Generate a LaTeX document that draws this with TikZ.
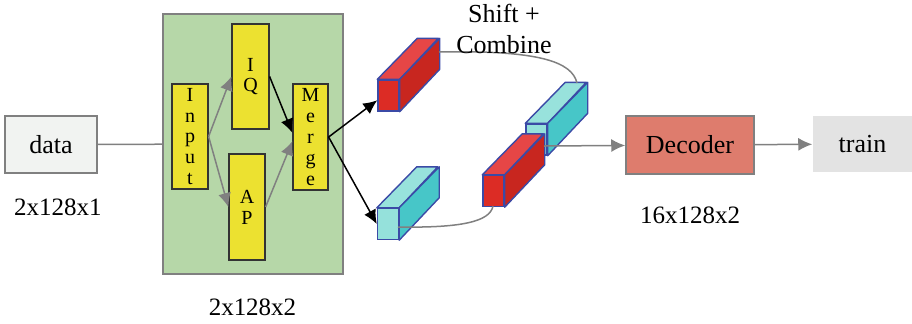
\documentclass[tikz,border=0pt]{standalone}
\usepackage{fontspec}
\setmainfont{Liberation Serif}
\usetikzlibrary{arrows.meta}

\definecolor{boxgray}{HTML}{808080}
\definecolor{datafill}{HTML}{F1F3F1}
\definecolor{grn}{HTML}{B6D7A8}
\definecolor{ylw}{HTML}{ECE130}
\definecolor{dec}{HTML}{DE7C6D}
\definecolor{trn}{HTML}{E3E3E3}
\definecolor{slabedge}{HTML}{3B4AA6}
\definecolor{redfront}{HTML}{DC2C25}
\definecolor{redtop}{HTML}{E64646}
\definecolor{redside}{HTML}{C8261F}
\definecolor{cyfront}{HTML}{95E1DB}
\definecolor{cytop}{HTML}{98E2DC}
\definecolor{cyside}{HTML}{47C6C8}

% name, position, front, top, side
\newcommand{\slab}[5]{
  \node[slab,fill=#3] (#1) at (#2) {};
  \filldraw[slabline,fill=#4] (#1.north west) -- ++(40,-41) -- ++(21,0) -- (#1.north east) -- cycle;
  \filldraw[slabline,fill=#5] (#1.north east) -- ++(40,-41) -- ++(0,31) -- (#1.south east) -- cycle;
}

\begin{document}
\begin{tikzpicture}[x=0.5pt,y=-0.5pt,
    blk/.style={draw=boxgray,line width=0.75pt,inner sep=0pt,font=\fontsize{13}{15}\selectfont},
    ybox/.style={draw=black!80,fill=ylw,line width=0.6pt,inner sep=0pt,align=center,font=\fontsize{10}{10.4}\selectfont},
    lbl/.style={anchor=base,font=\fontsize{12.5}{15}\selectfont},
    conn/.style={draw=boxgray,line width=0.75pt},
    garr/.style={conn,-{Latex[length=7pt,width=6.5pt]}},
    barr/.style={draw=black,line width=0.75pt,-{Latex[length=7pt,width=6.5pt]}},
    slab/.style={draw=slabedge,line width=0.7pt,minimum width=10.5pt,minimum height=15.5pt,inner sep=0pt},
    slabline/.style={draw=slabedge,line width=0.7pt,line join=round}]
  \useasboundingbox (0,0) rectangle (912,323);

  \node[blk,fill=datafill,minimum width=46pt,minimum height=28.5pt] (data) at (51,144.5) {data};
  \node[lbl] (datasize) at (58,215) {2x128x1};

  \node[draw=boxgray,fill=grn,line width=0.75pt,minimum width=90pt,minimum height=130pt] (green) at (253,144) {};
  \node[lbl] (greensize) at (252.5,315) {2x128x2};
  \draw[conn] (data) -- (green);

  \node[ybox,minimum width=18pt,minimum height=52.5pt] (input) at (190,136.5) {I\\n\\p\\u\\t};
  \node[ybox,minimum width=18.5pt,minimum height=52.5pt] (iq) at (250.5,76.5) {I\\Q};
  \node[ybox,minimum width=18pt,minimum height=53pt] (ap) at (247,207) {A\\P};
  \node[ybox,minimum width=17.5pt,minimum height=53pt] (merge) at (310.5,137) {M\\e\\r\\g\\e};

  \draw[garr] (input.east) -- (iq.west);
  \draw[garr] (input.east) -- (ap.west);
  \draw[barr] (iq.east) -- (merge.167);
  \draw[garr] (ap.east) -- (merge.193);

  % slabs
  \slab{red1}{388.5,95.5}{redfront}{redtop}{redside}
  \slab{cy1}{388,224}{cyfront}{cytop}{cyside}
  \slab{cy2}{536.5,139.5}{cyfront}{cytop}{cyside}
  \slab{red2}{493.5,191}{redfront}{redtop}{redside}

  \draw[barr] (merge.east) -- (red1.203);
  \draw[barr] (merge.east) -- (cy1.west);

  \coordinate (redback) at (439,52);
  \coordinate (cytopedge) at (577,83);
  \coordinate (cyfrontedge) at (398,227);
  \coordinate (redbottom) at (493,206);
  \coordinate (joint) at (544,146);
  \draw[conn] (redback) .. controls (540,50) and (572,62) .. (cytopedge);
  \draw[conn] (cyfrontedge) .. controls (460,228) and (490,222) .. (redbottom);

  \node[inner sep=0pt,align=center,font=\fontsize{13}{15.5}\selectfont] (shift) at (504,28.5) {Shift +\\Combine};

  \node[blk,fill=dec,minimum width=64pt,minimum height=29pt] (decoder) at (690,145) {Decoder};
  \node[lbl] (decsize) at (690,223) {16x128x2};
  \node[blk,draw=none,fill=trn,minimum width=49.5pt,minimum height=28pt] (train) at (862.5,144) {train};

  \draw[garr] (joint) -- (decoder);
  \draw[garr] (decoder) -- (train);
\end{tikzpicture}
\end{document}
